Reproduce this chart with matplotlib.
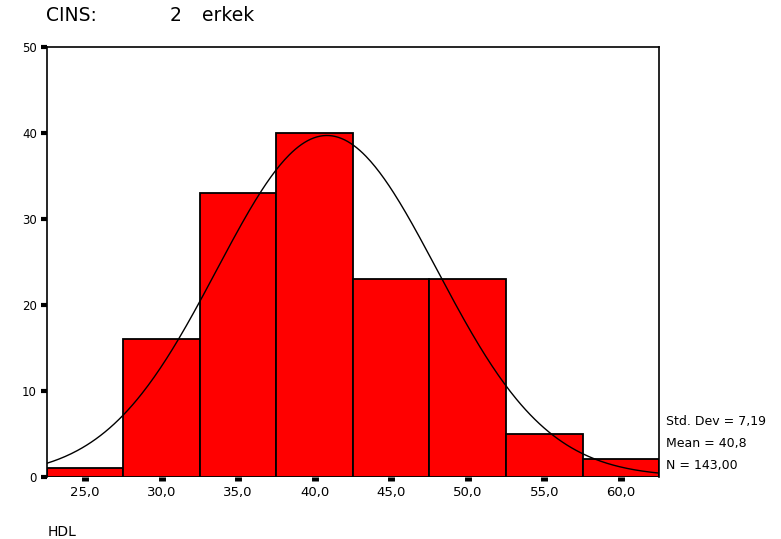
import numpy as np
import matplotlib
matplotlib.use("Agg")
import matplotlib.pyplot as plt

bin_centers = [25, 30, 35, 40, 45, 50, 55, 60]
counts = [1, 16, 33, 40, 23, 23, 5, 2]
bin_width = 5
mean_val = 40.8
std_val = 7.19
n_val = 143
x_ticks = [25, 30, 35, 40, 45, 50, 55, 60]
x_tick_labels = ["25,0", "30,0", "35,0", "40,0", "45,0", "50,0", "55,0", "60,0"]
y_ticks = [0, 10, 20, 30, 40, 50]

fig = plt.figure(figsize=(7.81, 5.39), dpi=100)
ax = fig.add_axes([0.0598, 0.1156, 0.8440 - 0.0598, 0.9134 - 0.1156])

ax.bar(bin_centers, counts, width=bin_width, color="#ff0000",
       edgecolor="black", linewidth=1.3, zorder=2)

xs = np.linspace(22.5, 62.5, 400)
ys = n_val * bin_width / (std_val * np.sqrt(2 * np.pi)) * np.exp(-0.5 * ((xs - mean_val) / std_val) ** 2)
ax.plot(xs, ys, color="black", linewidth=1.0, zorder=3)

ax.set_xlim(22.5, 62.5)
ax.set_ylim(0, 50)
ax.set_xticks(x_ticks)
ax.set_xticklabels(x_tick_labels, fontsize=9.5)
ax.set_yticks(y_ticks)
ax.set_yticklabels([str(v) for v in y_ticks], fontsize=8.5)
ax.tick_params(axis="x", direction="out", length=3, width=5, pad=4, color="black")
ax.tick_params(axis="y", direction="out", length=4, width=3, pad=3, color="black")
for s in ["left", "top", "right"]:
    ax.spines[s].set_linewidth(1.2)
ax.spines["bottom"].set_visible(False)

title_y = 1 - 15.5 / 539
fig.text(0.059, title_y, "CINS:", fontsize=13.5, ha="left", va="center")
fig.text(0.217, title_y, "2", fontsize=13.5, ha="left", va="center")
fig.text(0.259, title_y, "erkek", fontsize=13.5, ha="left", va="center")
fig.text(0.061, 1 - 532 / 539, "HDL", fontsize=10, ha="left", va="center")

fig.text(0.853, 1 - 422 / 539, "Std. Dev = 7,19", fontsize=9, ha="left", va="center")
fig.text(0.853, 1 - 443 / 539, "Mean = 40,8", fontsize=9, ha="left", va="center")
fig.text(0.853, 1 - 465 / 539, "N = 143,00", fontsize=9, ha="left", va="center")

fig.savefig("out.png", dpi=100)
